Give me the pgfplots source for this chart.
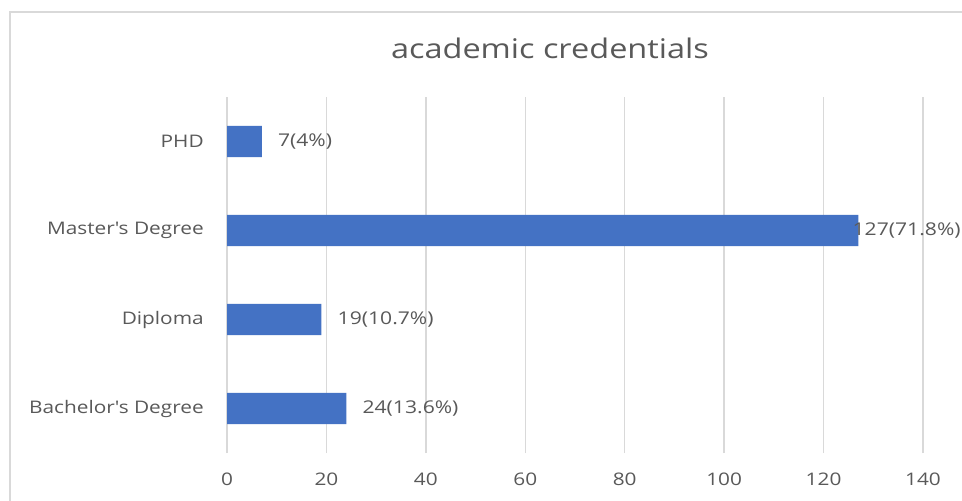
\documentclass[border=0pt]{standalone}
\usepackage{pgfplots}
\pgfplotsset{compat=1.18}
\usepackage{pgfplotstable}
\usepackage{fontspec}
\setmainfont[FakeStretch=1.2]{Open Sans}
\definecolor{barblue}{HTML}{4472C4}
\definecolor{txtgray}{HTML}{595959}
\definecolor{gridgray}{HTML}{D9D9D9}
\pgfplotstableread{
y x shift label
0 24 12 {24(13.6\%)}
1 19 12 {19(10.7\%)}
2 127 -4.5 {127(71.8\%)}
3 7 12 {7(4\%)}
}\datatable
\begin{document}
\begin{tikzpicture}
\useasboundingbox (0pt,0pt) rectangle (721.5pt,-375pt);
\clip (0pt,0pt) rectangle (721.5pt,-375pt);
\fill[white] (0pt,0pt) rectangle (721.5pt,-375pt);
\draw[gridgray, line width=1pt] (7.5pt,-9pt) rectangle (780pt,-430pt);
\begin{axis}[
  at={(170.25pt,-339.75pt)}, anchor=south west,
  scale only axis, width=522pt, height=267pt,
  xbar, bar width=0.35,
  xmin=0, xmax=140, ymin=-0.5, ymax=3.5,
  xtick={0,20,...,140}, ytick={0,1,2,3},
  yticklabels={Bachelor\textquotesingle s Degree, Diploma, Master\textquotesingle s Degree, PHD},
  axis line style={draw=none},
  tick style={draw=none},
  xmajorgrids, grid style={gridgray, line width=1pt},
  /pgf/number format/assume math mode=true,
  every tick label/.append style={font=\fontsize{13}{15}\selectfont, text=txtgray},
  xticklabel style={anchor=north, inner sep=0pt, yshift=-15pt},
  yticklabel style={anchor=east, inner sep=0pt, xshift=-13pt},
  title={academic credentials},
  title style={at={(0.464,1)}, anchor=base, yshift=23pt, font=\fontsize{20.3}{24}\selectfont, text=txtgray},
  clip=false,
]
\addplot[fill=barblue, draw=none,
  point meta=explicit symbolic,
  visualization depends on={\thisrow{shift} \as \myshift},
  nodes near coords,
  nodes near coords style={anchor=west, inner sep=0pt, xshift=\myshift pt, font=\fontsize{13.2}{15}\selectfont, text=txtgray},
] table[x=x, y=y, meta=label] {\datatable};
\end{axis}
\end{tikzpicture}
\end{document}
